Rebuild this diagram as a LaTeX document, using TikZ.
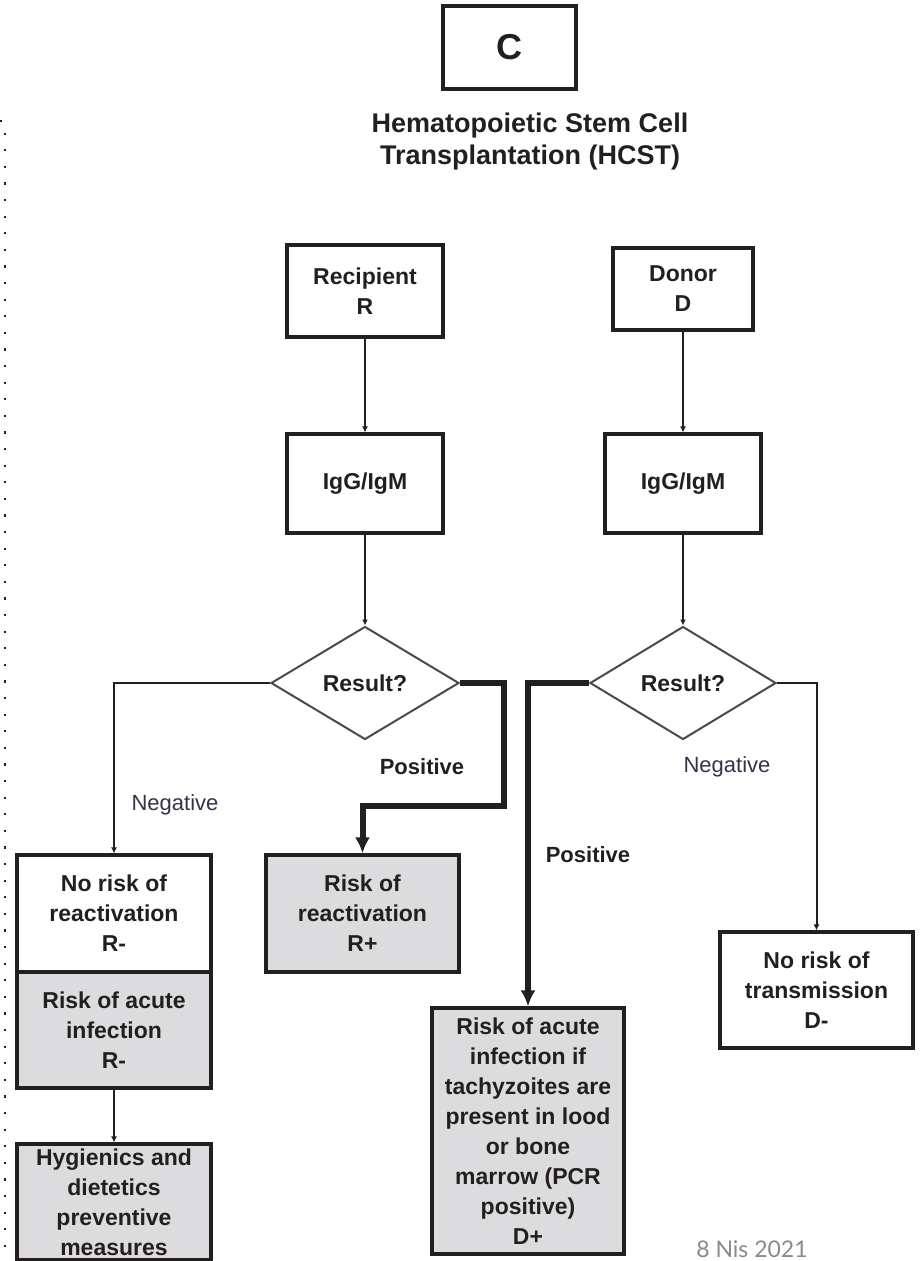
\documentclass[tikz,border=0pt]{standalone}
\usepackage{fontspec}
\setmainfont{Liberation Sans}
\newfontfamily\datefont{Lato}
\usetikzlibrary{shapes.geometric,arrows.meta}
\definecolor{ink}{HTML}{231F20}
\definecolor{boxgray}{HTML}{DCDCDE}
\definecolor{rimgray}{HTML}{4A4A4A}
\definecolor{labelink}{HTML}{33334A}
\definecolor{dategray}{HTML}{8A8A8A}
\tikzset{
  box/.style={draw=ink, line width=3.2pt, rectangle, align=center, inner sep=2pt,
    text=ink, font=\bfseries\fontsize{23}{30}\selectfont},
  graybox/.style={box, fill=boxgray},
  decision/.style={draw=rimgray, line width=2pt, diamond, inner sep=0pt, text=ink,
    font=\bfseries\fontsize{23}{30}\selectfont},
  thin/.style={draw=ink, line width=2pt, -{Latex[length=6pt,width=6pt]}},
  heavy/.style={draw=ink, line width=6pt, -{Latex[length=16pt,width=15pt]}},
  branch/.style={text=ink, font=\bfseries\fontsize{22}{26}\selectfont, anchor=center},
  branchneg/.style={text=labelink, font=\fontsize{22}{26}\selectfont, anchor=center},
}
\begin{document}
\begin{tikzpicture}[x=1pt,y=-1pt]
\useasboundingbox (0,0) rectangle (923,1261);

% header
\node[box, minimum width=133pt, minimum height=83pt, font=\bfseries\fontsize{36}{40}\selectfont] (c) at (509.5,47.5) {C};
\node[text=ink, align=center, font=\bfseries\fontsize{27}{32}\selectfont] (title) at (530,142)
  {Hematopoietic Stem Cell\\Transplantation (HCST)};

% dotted margin rule
\draw[ink, line width=2.2pt, dash pattern=on 2.2pt off 14.4pt] (0,121) -- (5,121) -- (5,1261);

% top row
\node[box, minimum width=156pt, minimum height=92pt] (rec) at (365,291) {Recipient\\R};
\node[box, minimum width=140pt, minimum height=82pt] (don) at (683,289) {Donor\\D};

% serology
\node[box, minimum width=156pt, minimum height=99pt] (igl) at (365,483.5) {IgG/IgM};
\node[box, minimum width=156pt, minimum height=99pt] (igr) at (683,483.5) {IgG/IgM};

% decisions
\node[decision, minimum width=188pt, minimum height=113pt] (dl) at (365,683) {Result?};
\node[decision, minimum width=186pt, minimum height=113pt] (dr) at (683,683) {Result?};

% outcomes
\node[box, minimum width=194pt, minimum height=117pt] (nrr) at (114,913.5) {No risk of\\reactivation\\R-};
\node[graybox, minimum width=194pt, minimum height=116pt] (rai) at (114,1030) {Risk of acute\\infection\\R-};
\node[graybox, minimum width=194pt, minimum height=116pt] (hyg) at (114,1202) {Hygienics and\\dietetics\\preventive\\measures};
\node[graybox, minimum width=193pt, minimum height=117pt] (rr) at (362.5,913.5) {Risk of\\reactivation\\R+};
\node[graybox, minimum width=192pt, minimum height=246pt] (ra) at (528,1131)
  {Risk of acute\\infection if\\tachyzoites are\\present in lood\\or bone\\marrow (PCR\\positive)\\D+};
\node[box, minimum width=193pt, minimum height=116pt] (nrt) at (816.5,990) {No risk of\\transmission\\D-};

% connectors
\draw[thin] (rec.south) -- (igl.north);
\draw[thin] (don.south) -- (igr.north);
\draw[thin] (igl.south) -- (dl.north);
\draw[thin] (igr.south) -- (dr.north);
\draw[thin] (dl.west) -| (nrr.north);
\coordinate (bend) at (504,806);
\draw[heavy] (dl.east) -| (bend) -- (bend -| rr.north) -- (rr.north);
\draw[heavy] (dr.west) -| (ra.north);
\draw[thin] (dr.east) -| (nrt.north);
\draw[thin] (rai.south) -- (hyg.north);

% branch labels
\node[branch] (lp) at (422,767) {Positive};
\node[branchneg] (ln) at (175,805) {Negative};
\node[branch] (rp) at (588,855) {Positive};
\node[branchneg] (rn) at (727,767) {Negative};

% date
\node[text=dategray, font=\datefont\fontsize{23}{26}\selectfont] (date) at (752,1249) {8 Nis 2021};
\end{tikzpicture}
\end{document}
